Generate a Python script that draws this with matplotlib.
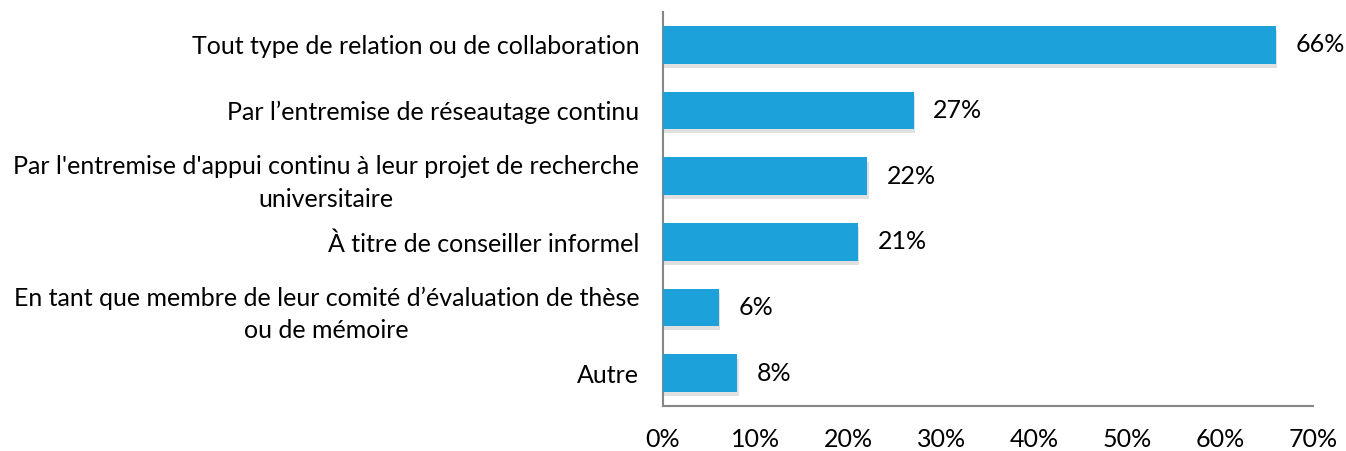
import matplotlib
matplotlib.use("Agg")
import matplotlib.pyplot as plt
import matplotlib.patheffects as pe
from matplotlib.ticker import FuncFormatter, MultipleLocator

categories = [
    "Tout type de relation ou de collaboration",
    "Par l’entremise de réseautage continu",
    "Par l'entremise d'appui continu à leur projet de recherche\nuniversitaire",
    "À titre de conseiller informel",
    "En tant que membre de leur comité d’évaluation de thèse\nou de mémoire",
    "Autre",
]
values = [66, 27, 22, 21, 6, 8]

plt.rcParams['font.family'] = ['Lato', 'DejaVu Sans']

fig = plt.figure(figsize=(13.46, 4.51), dpi=100)
ax = fig.add_axes([663/1346, 1-406/451, 650/1346, 394/451])

pos = list(range(len(categories)))
bars = ax.barh(pos, values, height=0.57, color='#1DA1DB', zorder=3)
for b in bars:
    b.set_path_effects([pe.SimplePatchShadow(offset=(1, -3), shadow_rgbFace='#999999', alpha=0.3), pe.Normal()])

for p, v in zip(pos, values):
    ax.annotate(f"{v}%", (v, p), xytext=(14, 0), textcoords='offset points',
                va='center', ha='left', fontsize=18, color='#000000')

ax.set_xlim(0, 70)
ax.set_ylim(len(categories)-0.5, -0.5)
ax.set_yticks(pos)
ax.set_yticklabels(categories, fontsize=18, multialignment='center', linespacing=1.5)
ax.xaxis.set_major_locator(MultipleLocator(10))
ax.xaxis.set_major_formatter(FuncFormatter(lambda x, _: f"{int(round(x))}%"))
ax.tick_params(axis='x', length=0, pad=16, labelsize=18)
ax.tick_params(axis='y', length=0, pad=17)
for s in ['top', 'right']:
    ax.spines[s].set_visible(False)
for s in ['left', 'bottom']:
    ax.spines[s].set_color('#868686')
    ax.spines[s].set_linewidth(1.5)

fig.savefig("out.png", dpi=100)
